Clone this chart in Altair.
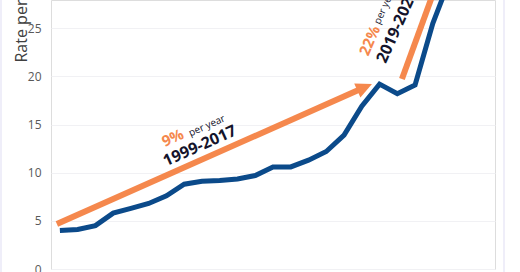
import altair as alt
import pandas as pd

years = list(range(1999, 2022))
rates = [4.0, 4.1, 4.5, 5.8, 6.3, 6.8, 7.6, 8.8, 9.1, 9.2, 9.35, 9.7,
         10.6, 10.6, 11.3, 12.2, 13.9, 16.9, 19.2, 18.2, 19.1, 25.5, 30.3]
y_ticks = [0, 5, 10, 15, 20, 25]

# trend arrows (start year, start value, end year, end value)
arrow1 = [(1998.83, 4.67), (2016.16, 18.87)]
arrow2 = [(2018.26, 19.73), (2020.49, 31.0)]

BLUE = "#0B4A8A"
ORANGE = "#F5884D"
DARK = "#14142B"
FONT = "Open Sans"

xscale = alt.Scale(domain=[1998.5, 2023.5], nice=False, zero=False)
yscale = alt.Scale(domain=[0, 27.93], nice=False, zero=True)

df = pd.DataFrame({"year": years, "rate": rates})

base_axis = alt.Axis(values=y_ticks, grid=True, gridColor="#f1f1f4", ticks=False,
                     domain=False, labelColor="#595959", labelFontSize=12,
                     labelFont=FONT, labelPadding=10,
                     title="Rate per 100,000", titleFont=FONT, titleFontSize=16,
                     titleFontWeight="normal", titleColor="#404040",
                     titleAngle=270, titleAlign="left", titleBaseline="middle",
                     titleX=-30, titleY=62)

line = alt.Chart(df).mark_line(color=BLUE, strokeWidth=5, clip=True).encode(
    x=alt.X("year:Q", scale=xscale, axis=None),
    y=alt.Y("rate:Q", scale=yscale, axis=base_axis),
)

def arrow_df(pts):
    return pd.DataFrame({"year": [p[0] for p in pts], "rate": [p[1] for p in pts]})

a1 = alt.Chart(arrow_df(arrow1)).mark_line(color=ORANGE, strokeWidth=6, clip=True).encode(
    x=alt.X("year:Q", scale=xscale), y=alt.Y("rate:Q", scale=yscale))
a2 = alt.Chart(arrow_df(arrow2)).mark_line(color=ORANGE, strokeWidth=6, clip=True).encode(
    x=alt.X("year:Q", scale=xscale), y=alt.Y("rate:Q", scale=yscale))

HEAD = "M 0 -1 L 0.95 1 L -0.95 1 Z"
h1 = alt.Chart(arrow_df(arrow1[1:])).mark_point(shape=HEAD, filled=True, color=ORANGE,
                                                 opacity=1, size=256, angle=66, clip=True).encode(
    x=alt.X("year:Q", scale=xscale), y=alt.Y("rate:Q", scale=yscale))

labels = [
    ("9%", 2005.36, 13.6, ORANGE, 15, "bold", 336),
    ("per year", 2007.28, 14.85, DARK, 10, "normal", 336),
    ("1999-2017", 2006.88, 12.77, DARK, 16, "bold", 336),
    ("22%", 2016.45, 23.7, ORANGE, 15, "bold", 294),
    ("per year", 2017.3, 27.3, DARK, 10, "normal", 294),
    ("2019-2021", 2017.99, 25.2, DARK, 16, "bold", 294),
]
texts = []
for t, x, y, c, s, w, a in labels:
    texts.append(alt.Chart(pd.DataFrame({"year": [x], "rate": [y], "t": [t]})).mark_text(
        color=c, fontSize=s, fontWeight=w, angle=a, font=FONT, align="center",
        baseline="middle").encode(
        x=alt.X("year:Q", scale=xscale), y=alt.Y("rate:Q", scale=yscale), text="t:N"))

border = alt.Chart(pd.DataFrame({"v": [0]})).mark_rule(color="#efeef9", strokeWidth=2).encode(
    x=alt.value(453), y=alt.value(-5), y2=alt.value(275))
border2 = alt.Chart(pd.DataFrame({"v": [0]})).mark_rule(color="#efeef9", strokeWidth=2).encode(
    x=alt.value(-50), y=alt.value(-5), y2=alt.value(275))

chart = alt.layer(line, a1, a2, h1, *texts, border, border2).properties(
    width=444, height=269,
    autosize=alt.AutoSizeParams(type="none"),
    padding={"left": 51, "top": 0, "right": 25, "bottom": 3},
).configure_view(stroke=None).configure(background="white")

chart.save("out.html", embed_options={"renderer": "svg", "actions": False})
